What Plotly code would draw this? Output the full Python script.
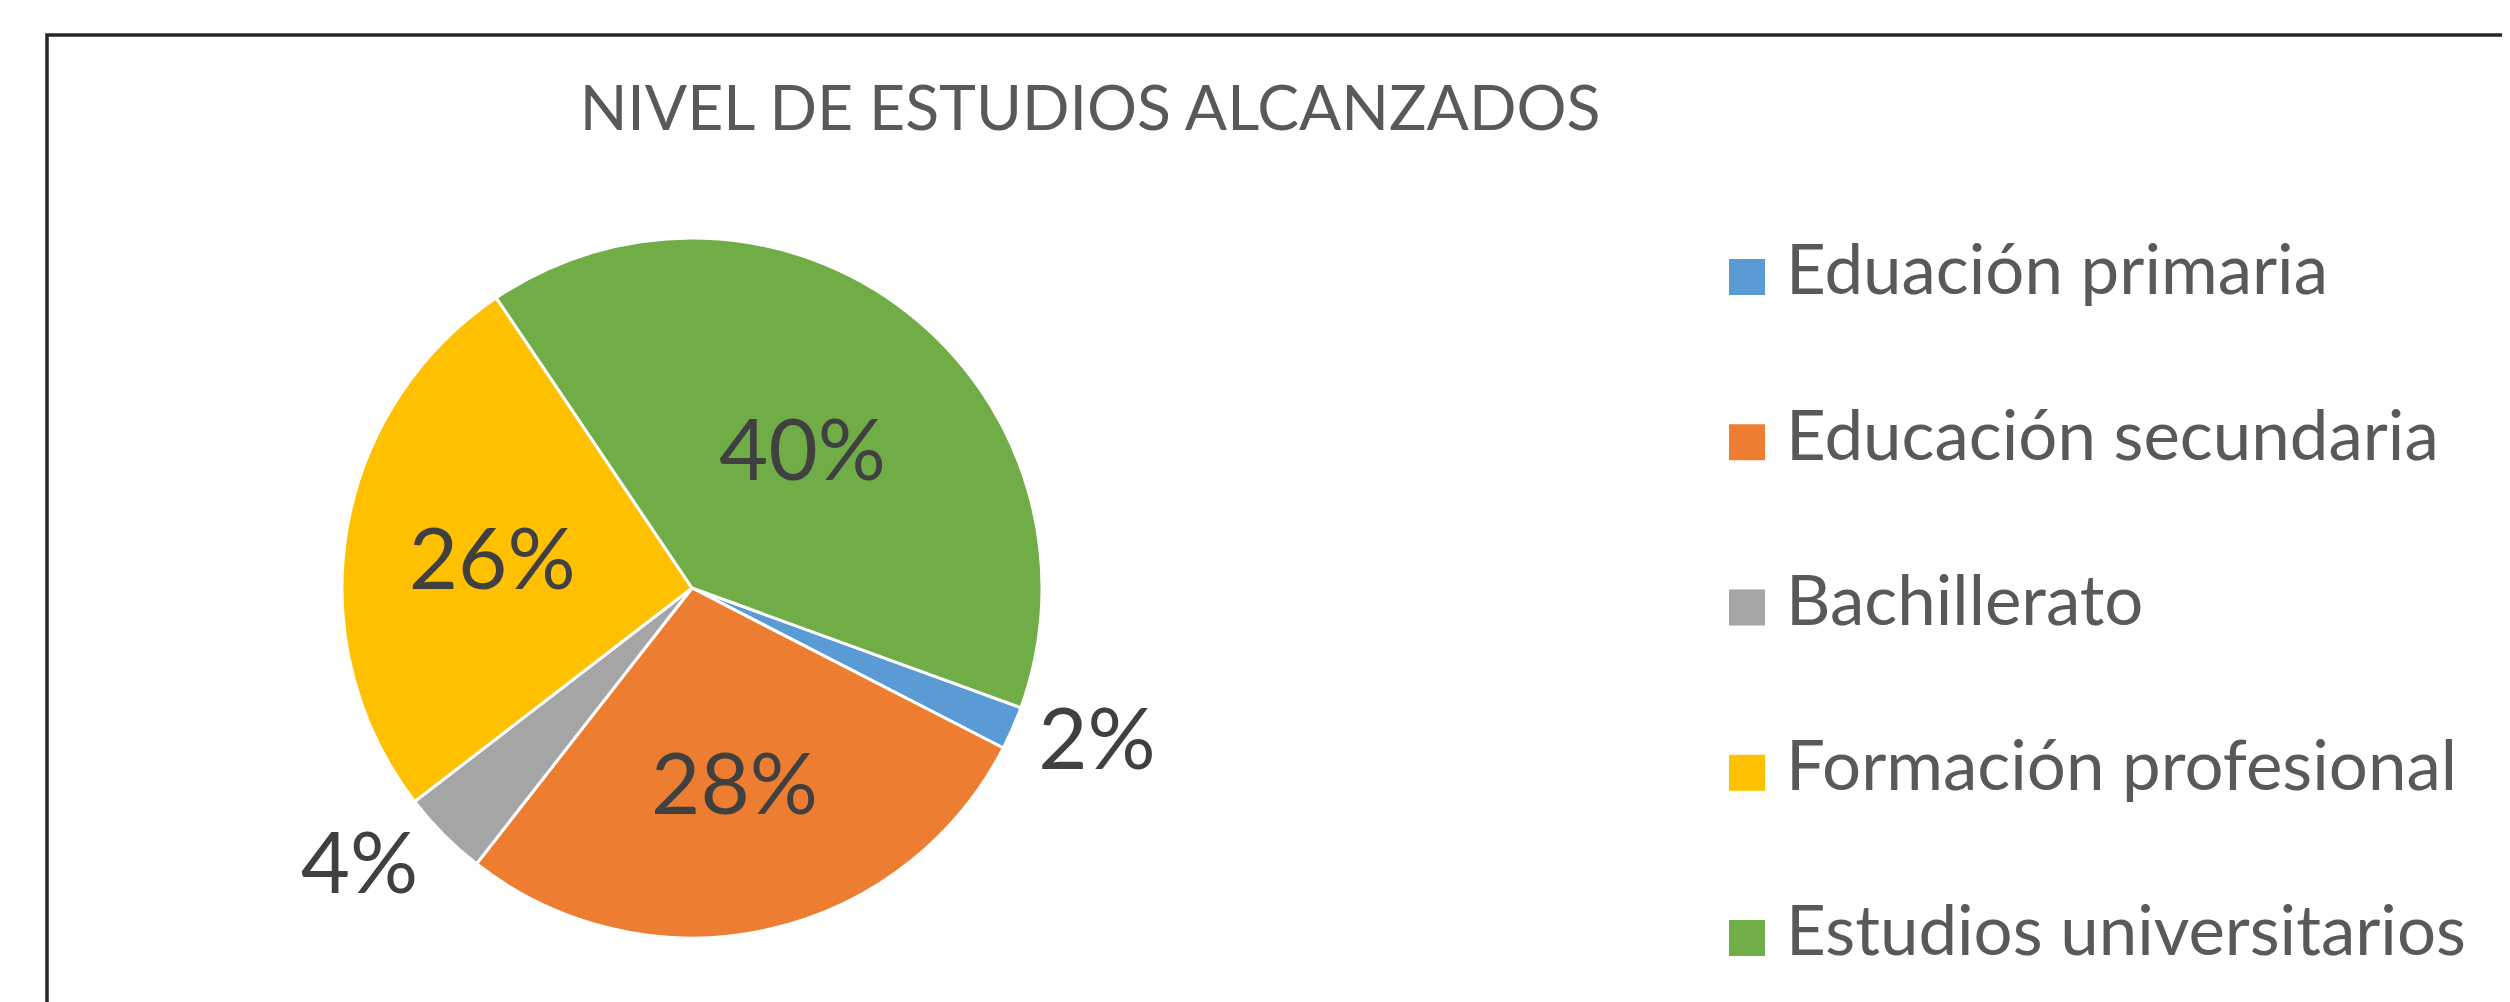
import plotly.graph_objects as go

CORES = {
    "azul": "#5B9BD5",
    "naranja": "#ED7D31",
    "gris": "#A5A5A5",
    "amarillo": "#FFC000",
    "verde": "#70AD47",
    "texto": "#595959",
    "etiqueta": "#404040",
    "marco": "#262626",
}

# datos
categorias = ["Eduación primaria", "Educación secundaria", "Bachillerato",
              "Formación profesional", "Estudios universitarios"]
porcentajes = [2, 28, 4, 26, 40]
colores = [CORES["azul"], CORES["naranja"], CORES["gris"], CORES["amarillo"], CORES["verde"]]
posicion_texto = ["outside", "inside", "outside", "inside", "inside"]

W, H = 2510, 1002
OFF = 8  # margen del body de la página
FUENTE = "Lato"

# centro y radio de la tarta (px de la página)
CX, CY, R = 692 - OFF, 588 - OFF, 350

fig = go.Figure()

fig.add_trace(go.Pie(
    labels=categorias,
    values=porcentajes,
    sort=False,
    direction="clockwise",
    rotation=110,
    marker=dict(colors=colores, line=dict(color="white", width=3)),
    texttemplate="%{percent:.0%}",
    textposition=posicion_texto,
    insidetextorientation="horizontal",
    textfont=dict(family=FUENTE, size=85, color=CORES["etiqueta"]),
    domain=dict(x=[(CX - R) / W, (CX + R) / W],
                y=[(H - CY - R) / H, (H - CY + R) / H]),
    showlegend=False,
    hoverinfo="label+percent",
))

# leyenda: cuadrados de color + textos
fila_0, paso = 277 - OFF, 165.25
rango_y = [4 + (H - fila_0 - 4 * paso) / paso, -fila_0 / paso]

fig.add_trace(go.Scatter(
    x=[0] * len(categorias),
    y=categorias,
    mode="markers",
    marker=dict(symbol="square", size=36, color=colores, line=dict(width=0)),
    cliponaxis=False,
    showlegend=False,
    hoverinfo="skip",
    xaxis="x2",
    yaxis="y2",
))
fig.add_trace(go.Scatter(
    x=[0] * len(categorias),
    y=categorias,
    mode="text",
    text=categorias,
    textposition="middle right",
    textfont=dict(family=FUENTE, size=69, color=CORES["texto"]),
    cliponaxis=False,
    showlegend=False,
    hoverinfo="skip",
    xaxis="x3",
    yaxis="y2",
))

fig.update_layout(
    width=W,
    height=H,
    margin=dict(l=0, r=0, t=0, b=0),
    paper_bgcolor="white",
    plot_bgcolor="rgba(0,0,0,0)",
    font=dict(family=FUENTE, color=CORES["texto"]),
    title=dict(text="NIVEL DE ESTUDIOS ALCANZADOS", x=(1090 - OFF) / W, xanchor="center",
               y=1 - (108 - OFF) / H, yanchor="middle",
               font=dict(family=FUENTE, size=62.5, color=CORES["texto"])),
    xaxis2=dict(domain=[(1747 - OFF) / W, 1.0], range=[0, 1], visible=False, fixedrange=True),
    xaxis3=dict(domain=[(1786 - OFF) / W, 1.0], range=[0, 1], visible=False, fixedrange=True),
    yaxis2=dict(domain=[0, 1], type="category", categoryorder="array",
                categoryarray=categorias, range=rango_y,
                visible=False, fixedrange=True),
    shapes=[dict(type="rect", xref="paper", yref="paper",
                 x0=(47 - OFF) / W, x1=1.02, y0=1 - (35 - OFF) / H, y1=-0.02,
                 line=dict(color=CORES["marco"], width=3.5), layer="below")],
)

fig.write_html("out.html")
